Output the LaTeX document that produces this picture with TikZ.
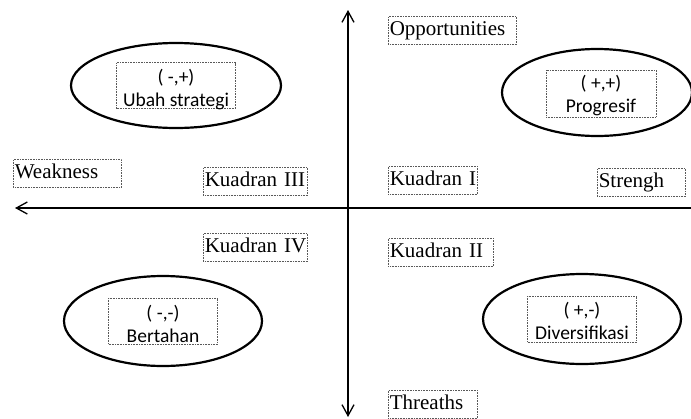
\documentclass[tikz,border=0pt]{standalone}
\usepackage{fontspec}
\setmainfont{Liberation Serif}
\newfontfamily\calibri{Carlito}
\usetikzlibrary{arrows.meta, shapes.geometric}

\tikzset{
	axis/.style={line width=1.3pt, line cap=round},
	barb/.tip={Straight Barb[length=11pt, width=12pt]},
	lbl/.style={draw=gray!70!black, densely dotted, line width=0.6pt, anchor=north west,
		inner xsep=1.5pt, inner ysep=0pt, text height=19pt, text depth=9pt, align=left,
		font=\fontsize{21}{24}\selectfont},
	quad/.style={draw=gray!70!black, densely dotted, line width=0.6pt, align=center,
		inner sep=0pt, text height=44pt, text depth=2pt,
		font=\calibri\fontsize{19.5}{23}\selectfont},
	oval/.style={draw, ellipse, line width=2.2pt, inner sep=0pt},
}

\begin{document}
\begin{tikzpicture}
	\useasboundingbox (0pt, 0pt) rectangle (691pt, -418pt);

	% axes
	\coordinate (top) at (348pt, -10pt);
	\coordinate (bot) at (348pt, -417pt);
	\coordinate (left) at (15pt, -208pt);
	\coordinate (right) at (692pt, -208pt);
	\draw[axis, barb-barb] (bot) -- (top);
	\draw[axis, -barb] (right) -- (left);

	% ellipses
	\node[oval, minimum width=210pt, minimum height=85pt] (e1) at (176pt, -85.5pt){};
	\node[oval, minimum width=190pt, minimum height=87pt] (e2) at (597pt, -92.5pt){};
	\node[oval, minimum width=198pt, minimum height=90pt] (e3) at (163pt, -321pt){};
	\node[oval, minimum width=198pt, minimum height=90pt] (e4) at (582pt, -319pt){};

	\node[quad, minimum width=119pt] (ubah) at (e1){( -,+)\\Ubah strategi};
	\node[quad, minimum width=110pt, text height=42pt, text depth=5pt] (prog) at (601pt, -93.5pt){( +,+)\\Progresif};
	\node[quad, minimum width=109pt] (bert) at (e3){( -,-)\\Bertahan};
	\node[quad, minimum width=109pt, text height=43pt, text depth=3pt] (div) at (e4){( +,-)\\Diversifikasi};

	% labels
	\node[lbl, text width=105pt] (weak) at (13pt, -159pt){Weakness};
	\node[lbl, text width=101pt] (kuad3) at (203pt, -167pt){Kuadran~III};
	\node[lbl, text width=125pt] (opp) at (388pt, -16pt){Opportunities};
	\node[lbl, text width=86pt] (kuad1) at (388pt, -166pt){Kuadran~I};
	\node[lbl, text width=85pt] (streng) at (597pt, -168pt){Strengh};
	\node[lbl, text width=101pt] (kuad4) at (203pt, -233pt){Kuadran~IV};
	\node[lbl, text width=102pt] (kuad2) at (388pt, -238pt){Kuadran~II};
	\node[lbl, text width=86pt] (threat) at (388pt, -390pt){Threaths};
\end{tikzpicture}
\end{document}
